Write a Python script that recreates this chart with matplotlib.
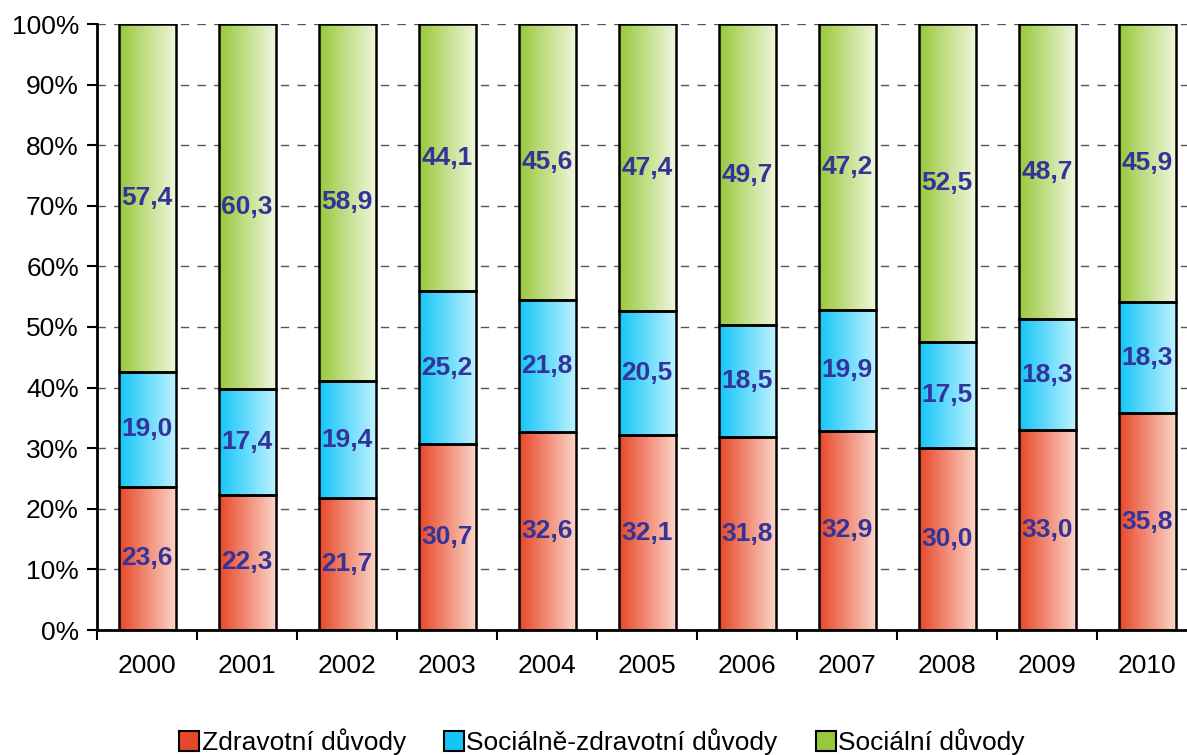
import matplotlib
matplotlib.use('Agg')
import matplotlib.pyplot as plt
import numpy as np
from matplotlib.colors import LinearSegmentedColormap
from matplotlib.patches import Patch

matplotlib.rcParams['font.family'] = ['Liberation Sans', 'DejaVu Sans']
matplotlib.rcParams['font.size'] = 19

years = ['2000', '2001', '2002', '2003', '2004', '2005', '2006', '2007', '2008', '2009', '2010']
zdravotni = [23.6, 22.3, 21.7, 30.7, 32.6, 32.1, 31.8, 32.9, 30.0, 33.0, 35.8]
soc_zdrav = [19.0, 17.4, 19.4, 25.2, 21.8, 20.5, 18.5, 19.9, 17.5, 18.3, 18.3]
socialni = [57.4, 60.3, 58.9, 44.1, 45.6, 47.4, 49.7, 47.2, 52.5, 48.7, 45.9]
series_names = ['Zdravotní důvody', 'Sociálně-zdravotní důvody', 'Sociální důvody']

grads = [('#e8482a', '#fbd3c6'), ('#14c6f7', '#bdf1ff'), ('#98c93c', '#f0f6dc')]

fig = plt.figure(figsize=(11.87, 7.55), dpi=100)
ax = fig.add_axes([97 / 1187, 1 - 630 / 755, 1100 / 1187, 606 / 755])

x = np.arange(len(years))
w = 0.57
grad = np.linspace(0, 1, 64).reshape(1, -1)
bottom = np.zeros(len(years))
for vals, (c1, c2) in zip([zdravotni, soc_zdrav, socialni], grads):
    cmap = LinearSegmentedColormap.from_list('g', [c1, c2])
    vals = np.array(vals)
    for i in range(len(years)):
        ax.imshow(grad, cmap=cmap, aspect='auto', zorder=2,
                  extent=(x[i] - w / 2, x[i] + w / 2, bottom[i], bottom[i] + vals[i]))
        ax.text(x[i], bottom[i] + vals[i] / 2, ('%.1f' % vals[i]).replace('.', ','),
                ha='center', va='center', color='#333399', fontweight='bold', fontsize=19, zorder=4)
    ax.bar(x, vals, w, bottom=bottom, facecolor='none', edgecolor='black', linewidth=1.8, zorder=3)
    bottom += vals

ax.set_xlim(-0.5, len(years) - 0.5)
ax.set_ylim(0, 100)
ax.set_yticks(np.arange(0, 101, 10))
ax.set_yticklabels(['%d%%' % v for v in range(0, 101, 10)])
ax.set_xticks(np.arange(-0.5, len(years), 1.0))
ax.set_xticklabels([])
ax.set_xticks(x, minor=True)
ax.set_xticklabels(years, minor=True)
ax.tick_params(axis='x', which='minor', length=0, pad=17)
ax.tick_params(axis='x', which='major', length=7, width=1.5, direction='out')
ax.tick_params(axis='y', length=7, width=1.5, direction='out', pad=6)
ax.yaxis.grid(True, linestyle=(0, (6, 6)), color='#555555', linewidth=1)
ax.set_axisbelow(True)
for s in ['top', 'right']:
    ax.spines[s].set_visible(False)
for s in ['left', 'bottom']:
    ax.spines[s].set_linewidth(2)

handles = [Patch(facecolor=c1, edgecolor='black', linewidth=1.5) for c1, c2 in grads]
fig.legend(handles, series_names, loc='center', bbox_to_anchor=(602 / 1187, 1 - 742 / 755),
           ncol=3, frameon=False, handlelength=0.75, handleheight=0.75, handletextpad=0.1,
           columnspacing=1.45, fontsize=19)

fig.savefig('out.png', dpi=100)
